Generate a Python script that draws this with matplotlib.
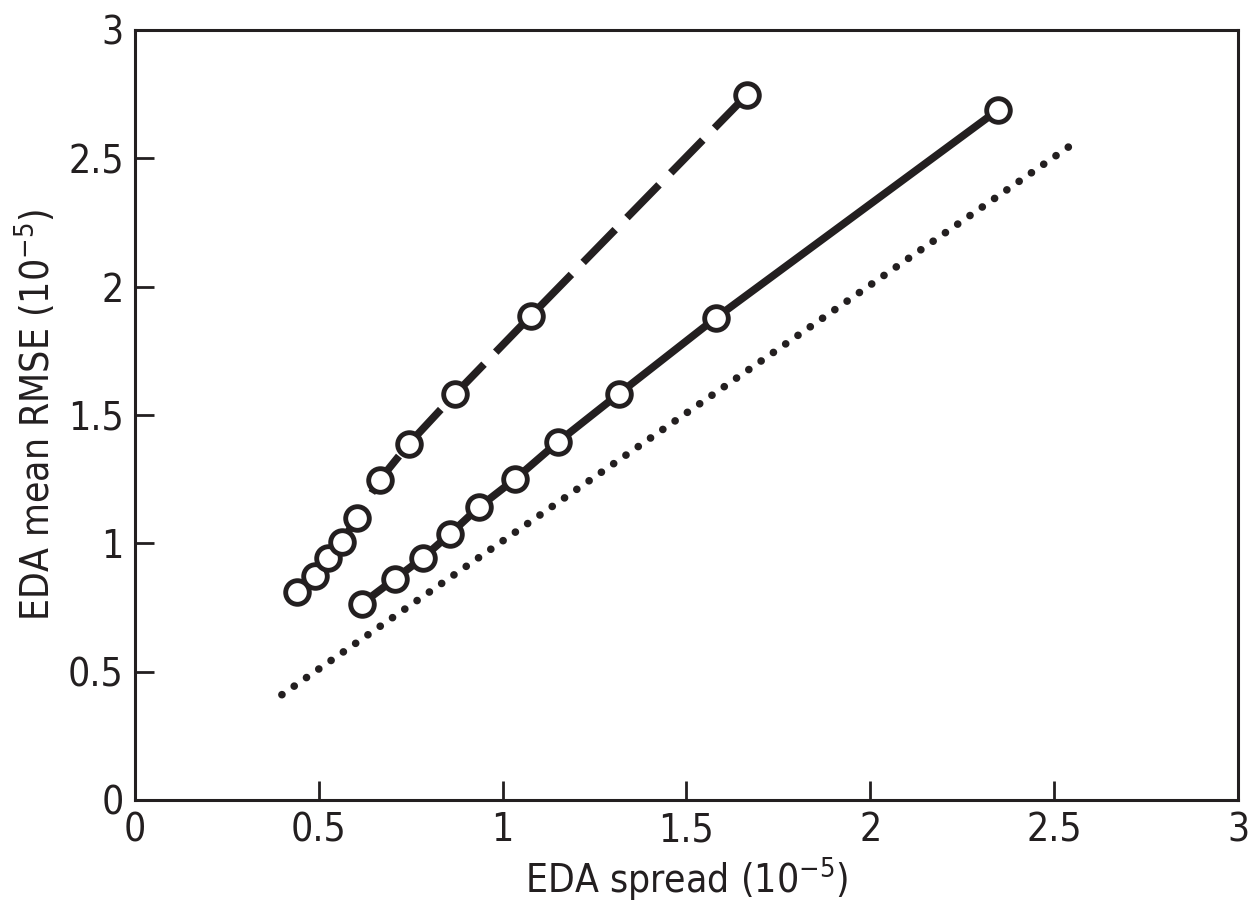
import numpy as np
import matplotlib.pyplot as plt

# dashed series
dash_x = [0.44, 0.49, 0.525, 0.563, 0.604, 0.666, 0.745, 0.87, 1.077, 1.664]
dash_y = [0.81, 0.873, 0.943, 1.005, 1.10, 1.247, 1.387, 1.58, 1.886, 2.746]

# solid series
solid_x = [0.617, 0.707, 0.783, 0.857, 0.936, 1.034, 1.151, 1.316, 1.58, 2.347]
solid_y = [0.764, 0.861, 0.943, 1.036, 1.141, 1.25, 1.395, 1.582, 1.878, 2.688]

# dotted 1:1 reference
ref_x = [0.40, 2.565]
ref_y = [0.41, 2.57]

ticks = [0, 0.5, 1, 1.5, 2, 2.5, 3]
tick_labels = ['0', '0.5', '1', '1.5', '2', '2.5', '3']

plt.rcParams['font.family'] = ['DejaVu Sans']
plt.rcParams['font.stretch'] = 'condensed'

fig = plt.figure(figsize=(12.6, 9.09), dpi=100)
ax = fig.add_axes([0.107, 0.12, 0.8755, 0.847])

c = '#231f20'
ax.plot(ref_x, ref_y, color=c, lw=5.5, linestyle=(0, (0.01, 1.95)),
        dash_capstyle='round')
ax.plot(solid_x, solid_y, color=c, lw=5.5, marker='o', ms=17,
        mfc='white', mec=c, mew=3.5)
ax.plot(dash_x, dash_y, color=c, lw=5.5, linestyle=(0, (6, 2.2)),
        marker='o', ms=17, mfc='white', mec=c, mew=3.5)

ax.set_xlim(0, 3)
ax.set_ylim(0, 3)
ax.set_xticks(ticks)
ax.set_yticks(ticks)
ax.set_xticklabels(tick_labels)
ax.set_yticklabels(tick_labels)
ax.tick_params(direction='in', length=14, width=2, labelsize=28, colors=c,
               pad=8)
for s in ax.spines.values():
    s.set_linewidth(2.2)
    s.set_color(c)

ax.set_xlabel('EDA spread (10$^{-5}$)', fontsize=28, color=c, labelpad=4)
ax.set_ylabel('EDA mean RMSE (10$^{-5}$)', fontsize=28, color=c, labelpad=8)

fig.savefig('out.png', dpi=100)
